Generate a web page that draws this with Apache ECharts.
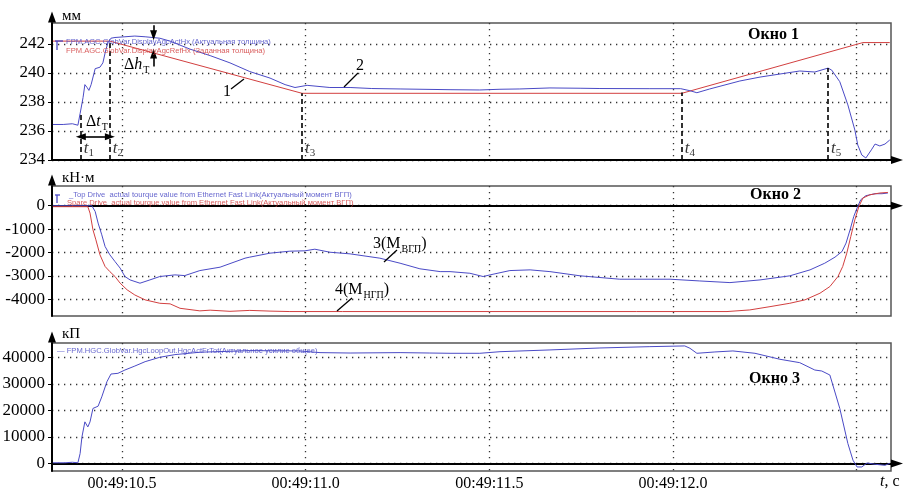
<!DOCTYPE html>
<html>
<head>
<meta charset="utf-8">
<script src="https://cdn.jsdelivr.net/npm/echarts@6/dist/echarts.min.js"></script>
<style>
  html, body { margin: 0; background: #fff; }
  #chart { width: 904px; height: 491px; }
</style>
</head>
<body>
<div id="chart"></div>
<script>
// time = seconds after 00:49:00
const gridTimes = [10.5, 11.0, 11.5, 12.0, 12.5];
const labelTimes = [10.5, 11.0, 11.5, 12.0];
const thickTicks = [234, 236, 238, 240, 242];
const torqueTicks = [-4000, -3000, -2000, -1000, 0];
const forceTicks = [0, 10000, 20000, 30000, 40000];

// Окно 1: толщина, мм
const thickAct = [[10.312,236.45],[10.340,236.45],[10.365,236.5],[10.380,236.4],[10.386,237.2],[10.394,238.3],[10.399,239.2],[10.405,239.0],[10.410,238.8],[10.416,239.2],[10.427,240.3],[10.440,240.4],[10.448,240.7],[10.456,241.6],[10.462,242.1],[10.470,242.4],[10.481,242.45],[10.508,242.5],[10.535,242.55],[10.563,242.5],[10.603,242.4],[10.631,242.2],[10.685,241.65],[10.740,241.2],[10.794,240.7],[10.848,240.1],[10.903,239.65],[10.944,239.2],[10.971,239.0],[11.004,239.15],[11.066,239.0],[11.121,239.0],[11.180,238.93],[11.257,238.9],[11.393,238.85],[11.474,238.83],[11.529,238.88],[11.583,238.9],[11.665,238.97],[11.747,238.95],[11.801,238.93],[11.937,238.92],[12.021,238.92],[12.046,238.78],[12.065,238.64],[12.100,238.9],[12.182,239.45],[12.237,239.72],[12.291,239.93],[12.345,240.14],[12.386,240.07],[12.422,240.34],[12.432,240.2],[12.454,239.4],[12.476,237.8],[12.495,236.07],[12.503,235.03],[12.514,234.34],[12.525,234.14],[12.540,234.7],[12.550,235.1],[12.563,234.97],[12.577,235.1],[12.590,235.38]];
const thickRef = [[10.312,242.2],[10.467,242.2],[10.99,238.6],[12.024,238.6],[12.517,242.1],[12.590,242.1]];

// Окно 2: момент, кН·м
const torqueTop = [[10.312,0],[10.418,0],[10.427,-245],[10.435,-742],[10.445,-1244],[10.454,-1746],[10.467,-2100],[10.481,-2390],[10.495,-2670],[10.508,-3030],[10.522,-3175],[10.549,-3316],[10.554,-3375],[10.576,-3175],[10.603,-3030],[10.644,-2960],[10.671,-2990],[10.712,-2775],[10.767,-2630],[10.835,-2245],[10.848,-2200],[10.903,-2030],[10.957,-1945],[10.998,-1930],[11.025,-1860],[11.066,-1990],[11.121,-2060],[11.202,-2245],[11.257,-2460],[11.311,-2700],[11.366,-2820],[11.393,-2820],[11.447,-2890],[11.483,-3030],[11.502,-2960],[11.556,-2775],[11.611,-2745],[11.665,-2820],[11.747,-3000],[11.855,-3145],[11.992,-3145],[12.073,-3220],[12.155,-3290],[12.237,-3175],[12.318,-3000],[12.373,-2745],[12.413,-2460],[12.441,-2200],[12.460,-1960],[12.471,-1600],[12.482,-1030],[12.492,-460],[12.501,-100],[12.511,257],[12.525,430],[12.550,515],[12.569,515],[12.585,545]];
const torqueSpare = [[10.312,-40],[10.407,-40],[10.413,-315],[10.421,-1030],[10.429,-1460],[10.440,-2100],[10.454,-2600],[10.467,-2820],[10.481,-3030],[10.495,-3316],[10.514,-3600],[10.535,-3820],[10.563,-4030],[10.603,-4175],[10.631,-4200],[10.658,-4390],[10.712,-4500],[10.740,-4470],[10.794,-4520],[10.848,-4480],[10.903,-4510],[10.957,-4530],[11.1,-4530],[11.5,-4530],[11.9,-4530],[12.147,-4530],[12.209,-4460],[12.264,-4320],[12.318,-4175],[12.359,-4030],[12.400,-3745],[12.427,-3460],[12.449,-3030],[12.462,-2600],[12.473,-2030],[12.484,-1316],[12.495,-600],[12.506,-30],[12.517,330],[12.536,470],[12.563,545],[12.585,570]];

// Окно 3: усилие
const forceTot = [[10.312,300],[10.345,300],[10.365,500],[10.380,300],[10.386,3770],[10.391,10040],[10.399,15700],[10.407,13800],[10.413,15700],[10.421,20750],[10.435,21600],[10.445,25100],[10.459,30800],[10.470,33700],[10.489,33960],[10.508,35200],[10.535,36700],[10.563,38350],[10.603,40000],[10.644,41000],[10.712,41900],[10.848,42500],[10.984,42380],[11.039,41750],[11.121,41600],[11.257,41750],[11.338,41600],[11.393,41500],[11.474,41500],[11.529,42100],[11.665,42760],[11.801,43500],[11.937,44000],[12.032,44270],[12.046,43400],[12.065,41500],[12.114,42000],[12.163,42380],[12.223,41500],[12.291,39250],[12.345,37970],[12.386,35200],[12.405,34830],[12.427,33320],[12.454,20750],[12.476,7550],[12.490,1250],[12.501,-1270],[12.514,-1270],[12.528,230],[12.550,-260],[12.577,-640],[12.590,100]];

// t1..t5 markers
const markerNames = ['1', '2', '3', '4', '5'];
const markerTimes = [10.388, 10.467, 10.99, 12.024, 12.422];
const markerTops = [237.2, 242.2, 238.6, 238.65, 240.35];
const dtLevel = 235.6;
const dhTime = 10.586;
const dhTop = [243.3, 242.6];
const dhBottom = [240.45, 241.35];

const BLUE = '#4a4ac6';
const RED = '#d23f3f';
const SERIF = 'Liberation Serif';
const SANS = 'Liberation Sans';
const X_MIN = 10.3095, X_MAX = 12.5934;

const dotted = { color: '#333', width: 1.3, type: [1.3, 4.7] };

const chart = echarts.init(document.getElementById('chart'));

const grids = [
  { left: 52, width: 839, top: 23, height: 137 },
  { left: 52, width: 839, top: 186, height: 130 },
  { left: 52, width: 839, top: 343, height: 128 }
].map(g => Object.assign(g, { show: true, borderColor: '#555', borderWidth: 1.5, outerBoundsMode: 'none' }));

const xAxes = [0, 1, 2].map(i => ({
  type: 'value', gridIndex: i, min: X_MIN, max: X_MAX,
  axisLine: { show: true, onZero: true, lineStyle: { color: '#000', width: 2 },
    symbol: ['none', 'triangle'], symbolSize: [8, 12], symbolOffset: [0, 6] },
  axisTick: { show: false, customValues: gridTimes },
  splitLine: { show: true, lineStyle: dotted },
  axisLabel: {
    show: i === 2, customValues: labelTimes, margin: 5,
    color: '#000', fontFamily: SERIF, fontSize: 16,
    formatter: v => '00:49:' + v.toFixed(1)
  }
}));

function yAxis(i, min, max, ticks) {
  return {
    type: 'value', gridIndex: i, min: min, max: max,
    axisLine: { show: true, onZero: false, lineStyle: { color: '#000', width: 2 },
      symbol: ['none', 'triangle'], symbolSize: [8, 11], symbolOffset: [0, 6] },
    axisTick: { show: true, length: 4, customValues: ticks, lineStyle: { color: '#000' } },
    splitLine: { show: true, lineStyle: dotted },
    axisLabel: { customValues: ticks, margin: 7, color: '#000', fontFamily: SERIF, fontSize: 17,
      formatter: v => String(v) }
  };
}

const line = (name, data, color, gi) => ({
  name: name, type: 'line', xAxisIndex: gi, yAxisIndex: gi, data: data,
  showSymbol: false, symbol: 'none', lineStyle: { color: color, width: 1 }, z: 3
});

const tri = { symbol: 'triangle', symbolSize: [7, 10] };

const refSeries = line('ref', thickRef, RED, 0);
refSeries.markLine = {
  silent: true, symbol: ['none', 'none'], label: { show: false },
  lineStyle: { color: '#000', width: 1.6, type: [5, 3] },
  data: markerTimes.map((t, i) => [{ coord: [t, 234] }, { coord: [t, markerTops[i]] }])
};

const actSeries = line('act', thickAct, BLUE, 0);
actSeries.markLine = {
  silent: true, symbol: ['none', 'none'], label: { show: false },
  lineStyle: { color: '#000', width: 1.6, type: 'solid' },
  data: [
    [Object.assign({ coord: [markerTimes[0], dtLevel] }, tri), Object.assign({ coord: [markerTimes[1], dtLevel] }, tri)],
    [{ coord: [dhTime, dhTop[0]] }, Object.assign({ coord: [dhTime, dhTop[1]] }, tri)],
    [{ coord: [dhTime, dhBottom[0]] }, Object.assign({ coord: [dhTime, dhBottom[1]] }, tri)]
  ]
};

const markerLabels = {
  type: 'scatter', xAxisIndex: 0, yAxisIndex: 0, symbolSize: 0, silent: true, z: 5,
  data: markerTimes.map(t => [t, 234]),
  label: {
    show: true, position: 'right', distance: 3, offset: [0, -11],
    formatter: p => '{i|t}{s|' + markerNames[p.dataIndex] + '}',
    rich: {
      i: { fontFamily: SERIF, fontStyle: 'italic', fontSize: 17, color: '#000' },
      s: { fontFamily: SERIF, fontSize: 11, color: '#000', padding: [9, 0, 0, 0] }
    }
  }
};

const subRich = {
  a: { fontFamily: SERIF, fontSize: 16, fill: '#000' },
  i: { fontFamily: SERIF, fontSize: 16, fontStyle: 'italic', fill: '#000' },
  s: { fontFamily: SERIF, fontSize: 10, fill: '#000', padding: [10, 0, 0, 1] }
};
const txt = (x, y, text, extra) => ({
  type: 'text', x: x, y: y, silent: true, z: 10,
  style: Object.assign({ text: text, fontFamily: SERIF, fontSize: 16, fill: '#000', textVerticalAlign: 'middle' }, extra || {})
});
const seg = (pts, color) => ({
  type: 'polyline', silent: true, z: 10, shape: { points: pts },
  style: { stroke: color || '#000', lineWidth: 1.3, fill: null }
});
const small = (x, y, text, color) => txt(x, y, text, { fontFamily: SANS, fontSize: 7.6, fill: color, opacity: 0.85 });

const graphic = [
  txt(62, 16, 'мм', { fontSize: 15 }),
  txt(62, 178, 'кН·м', { fontSize: 15 }),
  txt(62, 334, 'кП', { fontSize: 15 }),
  txt(748, 35, 'Окно 1', { fontWeight: 'bold' }),
  txt(750, 195, 'Окно 2', { fontWeight: 'bold' }),
  txt(749, 379, 'Окно 3', { fontWeight: 'bold' }),
  txt(223, 92, '1'),
  seg([[231, 89], [244, 79]]),
  txt(356, 66, '2'),
  seg([[358, 73], [344, 87]]),
  txt(373, 244, '{a|3(М}{s|ВГП}{a|)}', { rich: subRich }),
  seg([[397, 250], [384, 262]]),
  txt(335, 290, '{a|4(М}{s|НГП}{a|)}', { rich: subRich }),
  seg([[352, 298], [337, 311]]),
  txt(124, 65, '{a|Δ}{i|h}{s|Т}', { rich: subRich }),
  txt(86, 122, '{a|Δ}{i|t}{s|Т}', { rich: subRich }),
  txt(880, 482, '{i|t}{a|, с}', { rich: subRich }),
  seg([[55, 41], [63, 41]], BLUE),
  seg([[57, 41], [57, 50]], BLUE),
  small(66, 42, 'FPM.AGC.GlobVar.DisplayAgcActHx (Актуальная толщина)', BLUE),
  small(66, 51, 'FPM.AGC.GlobVar.DisplayAgcRefHx (Заданная толщина)', RED),
  seg([[57, 195], [57, 203]], BLUE),
  seg([[55, 195], [60, 195]], BLUE),
  small(69, 195, '_Top Drive  actual tourque value from Ethernet Fast Link(Актуальный момент ВГП)', BLUE),
  small(67, 203, 'Spare Drive  actual tourque value from Ethernet Fast Link(Актуальный момент ВГП)', RED),
  small(57, 351, '— FPM.HGC.GlobVar.HgcLoopOut.HgcActFrTot(Актуальное усилие общее)', BLUE)
];

chart.setOption({
  animation: false,
  backgroundColor: '#fff',
  grid: grids,
  xAxis: xAxes,
  yAxis: [
    yAxis(0, 234, 243.45, thickTicks),
    yAxis(1, -4720, 845, torqueTicks),
    yAxis(2, -2790, 45370, forceTicks)
  ],
  series: [
    refSeries,
    actSeries,
    markerLabels,
    line('top', torqueTop, BLUE, 1),
    line('spare', torqueSpare, RED, 1),
    line('force', forceTot, BLUE, 2)
  ],
  graphic: graphic
});
</script>
</body>
</html>
